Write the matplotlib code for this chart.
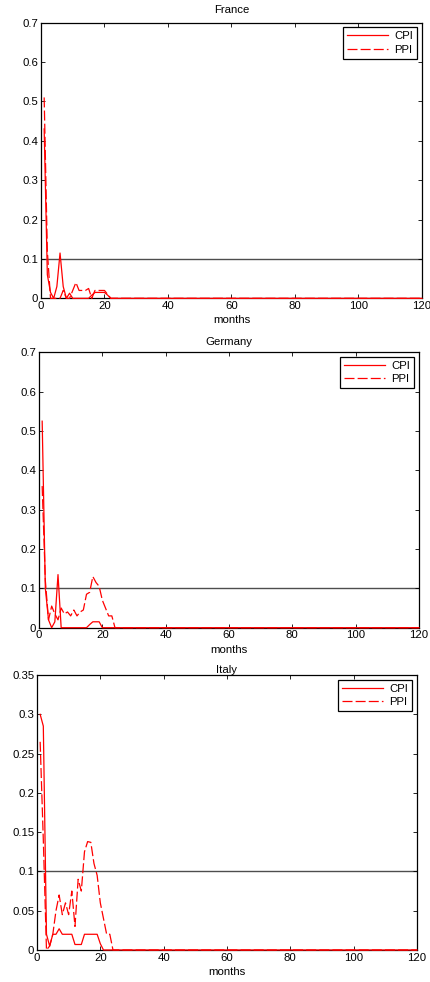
import numpy as np
import matplotlib
matplotlib.use('Agg')
import matplotlib.pyplot as plt

plt.rcParams['font.family'] = ['Liberation Sans', 'DejaVu Sans']

# months 1..120, values (zero after month ~24)
n_months = 120
months = np.arange(1, n_months + 1)

france_cpi = [0.43, 0.06, 0.015, 0.0, 0.03, 0.115, 0.03, 0.0, 0.013, 0.0,
              0.0, 0.0, 0.0, 0.0, 0.0, 0.008, 0.015, 0.015, 0.015, 0.015,
              0.008, 0.0]
france_ppi = [0.51, 0.12, 0.0, 0.0, 0.0, 0.0, 0.02, 0.0, 0.0, 0.02,
              0.04, 0.02, 0.02, 0.02, 0.025, 0.0, 0.02, 0.02, 0.02, 0.02,
              0.01, 0.0]

germany_cpi = [0.525, 0.10, 0.02, 0.0, 0.015, 0.135, 0.0, 0.0, 0.0, 0.0,
               0.0, 0.0, 0.0, 0.0, 0.0, 0.008, 0.015, 0.015, 0.015, 0.0]
germany_ppi = [0.36, 0.12, 0.02, 0.055, 0.035, 0.02, 0.05, 0.035, 0.04, 0.03,
               0.045, 0.03, 0.04, 0.045, 0.085, 0.09, 0.13, 0.115, 0.105, 0.07,
               0.05, 0.03, 0.03, 0.0]

italy_cpi = [0.30, 0.285, 0.02, 0.005, 0.02, 0.02, 0.027, 0.02, 0.02, 0.02,
             0.02, 0.007, 0.007, 0.007, 0.02, 0.02, 0.02, 0.02, 0.02, 0.008,
             0.0]
italy_ppi = [0.265, 0.14, 0.0, 0.005, 0.02, 0.05, 0.07, 0.045, 0.06, 0.045,
             0.075, 0.03, 0.09, 0.075, 0.125, 0.138, 0.137, 0.11, 0.095, 0.06,
             0.04, 0.02, 0.02, 0.0]

countries = ['France', 'Germany', 'Italy']
cpi_data = [france_cpi, germany_cpi, italy_cpi]
ppi_data = [france_ppi, germany_ppi, italy_ppi]
ylims = [0.7, 0.7, 0.35]
ysteps = [0.1, 0.1, 0.05]
threshold = 0.1


def pad(vals):
    return np.array(vals + [0.0] * (n_months - len(vals)))


fig = plt.figure(figsize=(4.31, 9.82), dpi=100)
positions = [[0.0951, 0.6962, 0.8839, 0.2808],
             [0.0905, 0.3608, 0.8815, 0.2804],
             [0.0858, 0.0326, 0.8817, 0.2800]]
title_pads = [7, 5, 1.5]
fs = 8.2

for i, name in enumerate(countries):
    ax = fig.add_axes(positions[i])
    ax.axhline(threshold, color='0.3', lw=1.0, zorder=1)
    ax.plot(months, pad(cpi_data[i]), color='red', lw=0.9, label='CPI',
            zorder=4, clip_on=False)
    ax.plot(months, pad(ppi_data[i]), color='red', lw=0.9,
            dashes=(8, 2.5), label='PPI', zorder=4, clip_on=False)
    ax.set_xlim(0, 120)
    ax.set_ylim(0, ylims[i])
    ax.set_xticks(np.arange(0, 121, 20))
    yt = np.round(np.arange(0, ylims[i] + 1e-9, ysteps[i]), 2)
    ax.set_yticks(yt)
    ax.set_yticklabels(['0' if v == 0 else ('%g' % v) for v in yt])
    ax.tick_params(direction='in', top=True, right=True, labelsize=fs,
                   length=3, width=0.6, pad=2)
    for s in ax.spines.values():
        s.set_linewidth(0.9)
    ax.set_title(name, fontsize=fs, pad=title_pads[i])
    ax.set_xlabel('months', fontsize=fs, labelpad=3)
    leg = ax.legend(loc='upper right', fontsize=fs, fancybox=False,
                    framealpha=1, edgecolor='black', handlelength=3.6,
                    borderaxespad=0.4, handletextpad=0.6, borderpad=0.35,
                    labelspacing=0.3)
    leg.get_frame().set_linewidth(0.9)

fig.savefig('out.png', dpi=100)
